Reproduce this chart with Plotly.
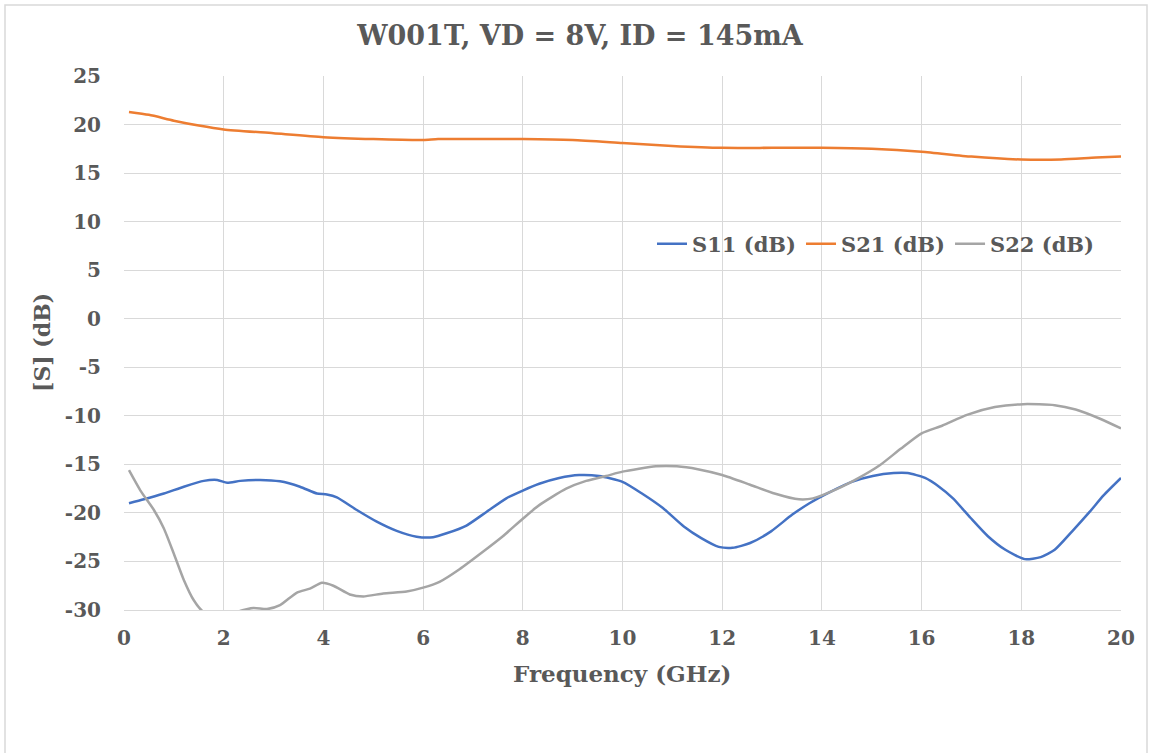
import plotly.graph_objects as go

title_text = "W001T, VD = 8V, ID = 145mA"
x_title = "Frequency (GHz)"
y_title = "[S] (dB)"

x_ticks = [0, 2, 4, 6, 8, 10, 12, 14, 16, 18, 20]
y_ticks = [25, 20, 15, 10, 5, 0, -5, -10, -15, -20, -25, -30]

s11_f = [0.1, 0.4, 0.8, 1.2, 1.6, 1.87, 2.07, 2.33, 2.73, 3.13, 3.53, 3.87, 4.07, 4.27, 4.67,
         5.07, 5.47, 5.87, 6.2, 6.47, 6.87, 7.27, 7.67, 8.0, 8.33, 8.73, 9.13, 9.53, 10.0,
         10.39, 10.81, 11.23, 11.58, 11.93, 12.21, 12.56, 12.98, 13.4, 13.75, 14.18, 14.6,
         15.02, 15.44, 15.72, 16.07, 16.35, 16.63, 16.98, 17.33, 17.68, 18.07, 18.39, 18.67,
         19.02, 19.37, 19.65, 20.0]
s11_db = [-19.0, -18.6, -18.0, -17.3, -16.7, -16.6, -16.9, -16.7, -16.6, -16.75, -17.3, -18.0,
          -18.1, -18.4, -19.7, -20.9, -21.85, -22.45, -22.5, -22.1, -21.3, -19.9, -18.5, -17.7,
          -17.0, -16.4, -16.1, -16.2, -16.8, -18.0, -19.5, -21.4, -22.6, -23.5, -23.6, -23.1,
          -21.9, -20.2, -19.0, -17.8, -16.8, -16.2, -15.9, -15.9, -16.4, -17.3, -18.5, -20.5,
          -22.4, -23.8, -24.76, -24.55, -23.8, -21.9, -19.9, -18.2, -16.4]

s21_f = [0.1, 0.5, 1.0, 1.5, 2.0, 3.0, 4.0, 5.0, 6.0, 6.3, 7.0, 8.0, 9.0, 10.0, 11.0, 12.0,
         13.0, 14.0, 15.0, 16.0, 17.0, 18.0, 18.8, 19.5, 20.0]
s21_db = [21.3, 21.0, 20.4, 19.9, 19.5, 19.1, 18.7, 18.5, 18.4, 18.5, 18.5, 18.5, 18.4, 18.1,
          17.8, 17.6, 17.6, 17.6, 17.5, 17.2, 16.7, 16.4, 16.4, 16.6, 16.7]

s22_f = [0.1, 0.33, 0.6, 0.8, 1.0, 1.2, 1.4, 1.57, 1.8, 2.0, 2.2, 2.33, 2.6, 2.87, 3.13, 3.47,
         3.73, 3.97, 4.2, 4.53, 4.8, 5.2, 5.67, 6.0, 6.33, 6.73, 7.2, 7.6, 8.0, 8.33, 8.87,
         9.27, 9.67, 10.0, 10.67, 11.09, 11.51, 12.0, 12.56, 13.05, 13.54, 13.82, 14.32,
         14.74, 15.16, 15.58, 16.0, 16.42, 16.91, 17.47, 18.04, 18.67, 19.09, 19.58, 20.0]
s22_db = [-15.6, -17.7, -19.7, -21.6, -24.2, -26.9, -29.0, -30.1, -30.8, -31.0, -30.6, -30.1,
          -29.8, -29.9, -29.5, -28.2, -27.8, -27.2, -27.5, -28.4, -28.6, -28.3, -28.1, -27.7,
          -27.1, -25.8, -24.0, -22.4, -20.6, -19.2, -17.5, -16.7, -16.2, -15.75, -15.2, -15.2,
          -15.5, -16.1, -17.1, -18.0, -18.6, -18.5, -17.5, -16.4, -15.1, -13.4, -11.8, -11.0,
          -9.9, -9.1, -8.8, -8.9, -9.35, -10.3, -11.3]

series_names = ["S11 (dB)", "S21 (dB)", "S22 (dB)"]
series_colors = ["#4472C4", "#ED7D31", "#A5A5A5"]

FONT = "Georgia, 'DejaVu Serif', serif"
TXT = "#595959"

W, H = 1149, 753
L, R, T, B = 124, 1121, 76, 610

fig = go.Figure()
for name, f, v, c in zip(series_names, [s11_f, s21_f, s22_f], [s11_db, s21_db, s22_db], series_colors):
    fig.add_trace(go.Scatter(x=f, y=v, mode="lines", name=name,
                             line=dict(color=c, width=2.5, shape="spline", smoothing=0.6)))

def px_x(p):
    return (p - L) / (R - L)

def px_y(p):
    return (B - p) / (B - T)

fig.update_layout(
    width=W, height=H,
    margin=dict(l=L, r=W - R, t=T, b=H - B),
    paper_bgcolor="white", plot_bgcolor="white",
    font=dict(family=FONT, color=TXT),
    title=dict(text=title_text, x=580 / W, xanchor="center", y=1 - 36 / H, yanchor="middle",
               font=dict(family=FONT, size=27, color=TXT, weight="bold")),
    xaxis=dict(range=[0, 20], tickvals=x_ticks, ticktext=[str(t) for t in x_ticks],
               showgrid=True, gridcolor="#D9D9D9", gridwidth=1,
               zeroline=False, showline=True, linecolor="#D9D9D9", linewidth=1,
               tickfont=dict(family=FONT, size=20, color=TXT, weight="bold"),
               ticks="", ticklabelstandoff=10, fixedrange=True),
    yaxis=dict(range=[-30, 25], tickvals=y_ticks, ticktext=[str(t) for t in y_ticks],
               showgrid=True, gridcolor="#D9D9D9", gridwidth=1,
               zeroline=False, showline=False,
               tickfont=dict(family=FONT, size=20, color=TXT, weight="bold"),
               ticks="", ticklabelstandoff=22, fixedrange=True),
    legend=dict(orientation="h", x=px_x(652), xanchor="left", y=px_y(244), yanchor="middle",
                bgcolor="rgba(255,255,255,0)", font=dict(family=FONT, size=21, color=TXT, weight="bold"),
                itemwidth=30, tracegroupgap=0),
    showlegend=True,
    annotations=[
        dict(text=x_title, xref="paper", yref="paper", x=px_x(622), y=px_y(673),
             xanchor="center", yanchor="middle", showarrow=False,
             font=dict(family=FONT, size=23, color=TXT, weight="bold")),
        dict(text=y_title, xref="paper", yref="paper", x=px_x(42), y=px_y(343),
             xanchor="center", yanchor="middle", showarrow=False, textangle=-90,
             font=dict(family=FONT, size=22, color=TXT, weight="bold")),
    ],
    shapes=[
        dict(type="rect", xref="paper", yref="paper", x0=px_x(5), x1=px_x(1147),
             y0=px_y(770), y1=px_y(5), line=dict(color="#D9D9D9", width=1.5), layer="below"),
    ],
)

fig.write_html("out.html", config={"displayModeBar": False},
               post_script="document.body.style.margin='0';")
